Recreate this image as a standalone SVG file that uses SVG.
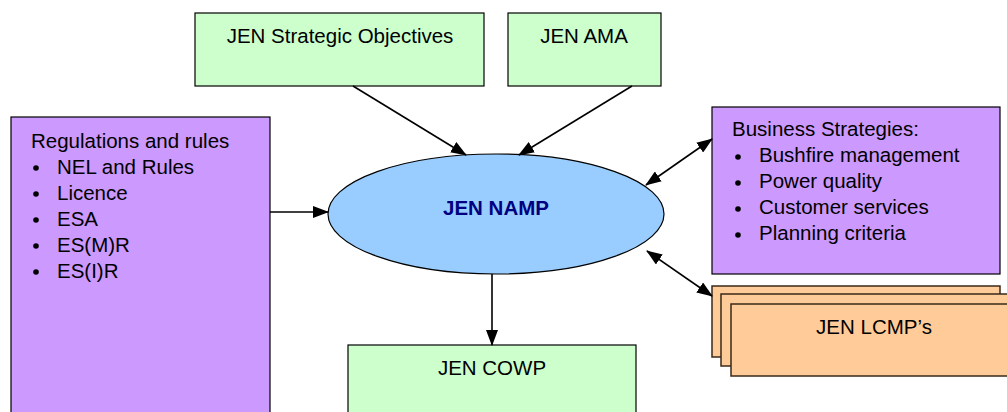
<svg xmlns="http://www.w3.org/2000/svg" width="1007" height="412" viewBox="0 0 1007 412">
<style>
.box{stroke:#000;stroke-width:1.2}
.g{fill:#CCFFCC}
.p{fill:#CC99FF}
.o{fill:#FFCC99;stroke:#3a2a1a;stroke-width:1.5}
.t{font-family:"Liberation Sans",Arial,sans-serif;font-size:20.5px;fill:#000}
.c{text-anchor:middle}
.conn{stroke:#000;stroke-width:1.6;fill:none}
</style>
<defs>
<marker id="ah" markerUnits="userSpaceOnUse" markerWidth="16" markerHeight="12" refX="15" refY="6" orient="auto-start-reverse">
<path d="M0,0 L16,6 L0,12 Z" fill="#000"/>
</marker>
</defs>
<rect width="1007" height="412" fill="#fff"/>
<g id="strategic">
<rect class="box g" x="195" y="13" width="289" height="73"/>
<text class="t c" x="340" y="43">JEN Strategic Objectives</text>
</g>
<g id="ama">
<rect class="box g" x="508" y="13" width="153" height="73"/>
<text class="t c" x="584" y="43">JEN AMA</text>
</g>
<g id="regulations">
<rect class="box p" x="11" y="117" width="259" height="300"/>
<text class="t" x="31" y="148">Regulations and rules</text>
<g>
<circle cx="36" cy="168" r="2.8"/><text class="t" x="57" y="174">NEL and Rules</text>
<circle cx="36" cy="194" r="2.8"/><text class="t" x="57" y="200">Licence</text>
<circle cx="36" cy="220" r="2.8"/><text class="t" x="57" y="226">ESA</text>
<circle cx="36" cy="246" r="2.8"/><text class="t" x="57" y="252">ES(M)R</text>
<circle cx="36" cy="272" r="2.8"/><text class="t" x="57" y="278">ES(I)R</text>
</g>
</g>
<g id="namp">
<ellipse cx="496" cy="214" rx="168" ry="60" fill="#99CCFF" stroke="#000" stroke-width="1.2"/>
<text class="c" x="496" y="215" font-family="Liberation Sans,Arial,sans-serif" font-size="20.5" font-weight="bold" fill="#000080">JEN NAMP</text>
</g>
<g id="business">
<rect class="box p" x="712" y="107" width="288" height="167"/>
<text class="t" x="732" y="136">Business Strategies:</text>
<circle cx="738" cy="157" r="2.8"/><text class="t" x="759" y="162">Bushfire management</text>
<circle cx="738" cy="183" r="2.8"/><text class="t" x="759" y="188">Power quality</text>
<circle cx="738" cy="209" r="2.8"/><text class="t" x="759" y="214">Customer services</text>
<circle cx="738" cy="235" r="2.8"/><text class="t" x="759" y="240">Planning criteria</text>
</g>
<g id="lcmp">
<rect class="o" x="712" y="286" width="288" height="71"/>
<rect class="o" x="721" y="294" width="300" height="72"/>
<rect class="o" x="731" y="304" width="300" height="72"/>
<text class="t c" x="874" y="334">JEN LCMP’s</text>
</g>
<g id="cowp">
<rect class="box g" x="348" y="345" width="288" height="80"/>
<text class="t c" x="492" y="375">JEN COWP</text>
</g>
<g id="connectors">
<line class="conn" x1="353" y1="86" x2="466" y2="155" marker-end="url(#ah)"/>
<line class="conn" x1="632" y1="86" x2="519" y2="155" marker-end="url(#ah)"/>
<line class="conn" x1="270" y1="212" x2="328" y2="212" marker-end="url(#ah)"/>
<line class="conn" x1="492" y1="274" x2="492" y2="345" marker-end="url(#ah)"/>
<line class="conn" x1="646" y1="185" x2="712" y2="139" marker-start="url(#ah)" marker-end="url(#ah)"/>
<line class="conn" x1="647" y1="251" x2="712" y2="296" marker-start="url(#ah)" marker-end="url(#ah)"/>
</g>
</svg>
